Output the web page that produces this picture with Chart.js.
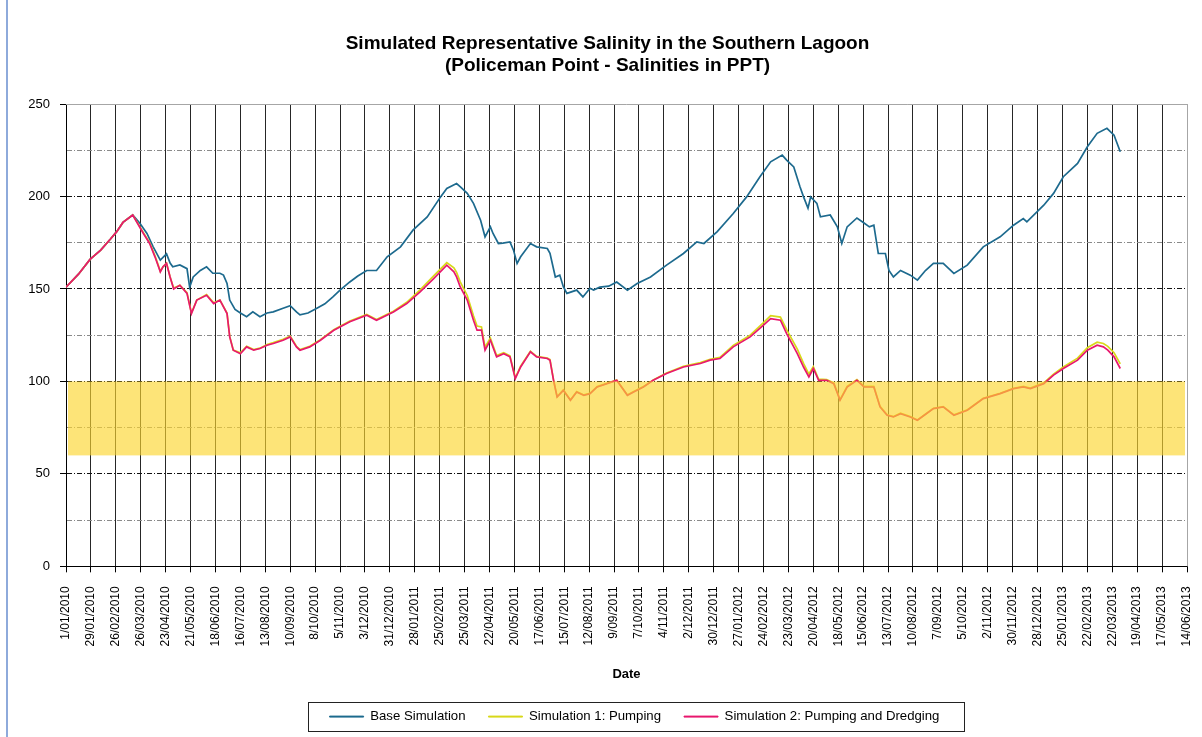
<!DOCTYPE html>
<html>
<head>
<meta charset="utf-8">
<title>Simulated Representative Salinity in the Southern Lagoon</title>
<script src="https://cdn.jsdelivr.net/npm/chart.js@4.4.0/dist/chart.umd.min.js"></script>
<style>
    body { margin: 0; background: #fff; }
    #wrap { position: relative; width: 1202px; height: 737px; }
    #salinityChart { position: absolute; left: 0; top: 0; }
    #frame { position: absolute; left: 6px; top: 0; width: 2px; height: 737px; background: #8eaadb; }
</style>
</head>
<body>
<div id="wrap">
    <canvas id="salinityChart" width="1202" height="737"></canvas>
    <div id="frame"></div>
</div>
<script>
// Days counted from 1/01/2010
const axisStartYear = 2010;
const axisMaxDay = 1260;
const tickStepDays = 28;

// Target salinity band (PPT)
const bandLow = 60;
const bandHigh = 100;

const seriesLabels = ['Base Simulation', 'Simulation 1: Pumping', 'Simulation 2: Pumping and Dredging'];

// Base simulation
const baseDays = [
    0, 14, 27, 39, 50, 57, 64, 75, 83, 91,
    98, 106, 113, 117, 120, 128, 136, 139, 143, 151,
    158, 165, 173, 177, 181, 184, 190, 196, 203, 210,
    218, 226, 233, 244, 252, 259, 263, 272, 282, 291,
    300, 308, 319, 328, 338, 349, 361, 376, 390, 406,
    421, 428, 439, 443, 451, 458, 466, 471, 477, 480,
    486, 491, 499, 503, 507, 511, 522, 529, 541, 544,
    550, 555, 559, 563, 574, 581, 589, 593, 600, 610,
    619, 631, 642, 657, 675, 694, 709, 717, 732, 750,
    765, 780, 792, 805, 810, 818, 825, 829, 834, 837,
    844, 848, 859, 867, 872, 878, 889, 897, 903, 908,
    913, 921, 925, 930, 938, 949, 957, 966, 975, 986,
    998, 1013, 1031, 1050, 1065, 1076, 1080, 1099, 1110, 1121,
    1137, 1148, 1159, 1170, 1178, 1185
];
const baseSalinity = [
    151, 158, 166, 171, 177, 181, 186, 190, 185.6, 180,
    172.8, 165.6, 169, 164, 162, 163, 161, 151, 156.5, 160,
    162, 158.5, 158.5, 157.5, 153, 144, 139, 137, 135, 137.6,
    135, 137, 137.6, 139.6, 141, 137.6, 136, 137, 139.6, 142,
    145.7, 149.4, 153.8, 157, 160, 160, 167.4, 172.8, 181.8, 189,
    199.8, 204.4, 207, 205.3, 201.7, 196.3, 187.2, 178.2, 183.6, 180,
    174.6, 174.8, 175.5, 171, 163.8, 167.4, 174.6, 172.8, 171.9, 169.3,
    156.5, 157.5, 151.2, 147.6, 149.4, 145.7, 150.4, 149.4, 151, 151.5,
    153.8, 149.4, 153, 156.5, 162.9, 169.2, 175.5, 174.6, 181, 190.8,
    199.8, 210.7, 218.8, 222.4, 219.7, 216, 205.3, 199.8, 193.7, 199.8,
    196.3, 189, 190, 183.6, 174.6, 183.6, 188.4, 185.7, 183.6, 184.5,
    169.2, 169.2, 160, 156.5, 160, 157.5, 154.8, 160, 163.8, 163.8,
    158.4, 162.9, 172.8, 178.2, 184.5, 188.1, 186.3, 195.3, 201.7, 210.7,
    217.9, 226.9, 234.2, 236.9, 233.2, 224.2
];

// Simulations 1 and 2 share the same days
const simDays = [
    0, 14, 27, 39, 50, 57, 64, 75, 87, 94,
    100, 104, 106, 109, 113, 117, 121, 128, 136, 141,
    147, 158, 166, 173, 181, 184, 188, 196, 203, 211,
    218, 226, 233, 244, 252, 259, 263, 274, 286, 301,
    319, 338, 349, 368, 383, 398, 413, 428, 436, 439,
    443, 451, 458, 462, 467, 471, 477, 484, 492, 499,
    505, 511, 522, 529, 541, 544, 548, 552, 559, 567,
    574, 582, 589, 597, 619, 631, 638, 649, 660, 675,
    694, 713, 724, 735, 750, 769, 784, 792, 803, 810,
    822, 829, 835, 840, 846, 855, 863, 870, 878, 889,
    897, 908, 915, 923, 930, 938, 949, 957, 975, 986,
    998, 1013, 1031, 1050, 1065, 1076, 1084, 1099, 1110, 1121,
    1137, 1148, 1159, 1166, 1171, 1178, 1185
];
const pumpingSalinity = [
    151, 158, 166, 171, 177, 181, 186, 190, 180.5, 175,
    168, 162.5, 159.5, 162, 164, 156.5, 150.5, 152, 148, 137,
    144, 147, 142.5, 144, 137, 124.5, 117, 115.5, 119, 117.2,
    118, 120, 121, 122.8, 124.5, 119, 117.2, 119, 122.6, 128,
    132.7, 136.2, 133.5, 138, 142.8, 149.5, 157, 164.3, 161.5, 159,
    154, 146.5, 135.5, 130, 129.5, 118.5, 123.5, 114, 115.5, 113.8,
    102, 108.2, 116.3, 113.6, 112.7, 111.8, 100.8, 91.8, 95.4, 90,
    94.5, 92.7, 93.6, 97.2, 100.8, 92.7, 94.5, 97.2, 100.8, 104.6,
    108.2, 110.2, 112, 113, 119.5, 125, 131.8, 135.6, 134.8, 128,
    117.5, 109.8, 104, 108, 101.2, 101, 99.2, 90.2, 97.4, 101,
    97.3, 97.3, 86.5, 82, 81, 82.8, 81, 79.2, 85.5, 86.4,
    81.9, 84.6, 90.9, 93.6, 96.3, 97.3, 96.4, 99.2, 104, 107.8,
    112.6, 118.2, 121.2, 120.5, 119, 115.5, 109.5
];
const dredgingSalinity = [
    151, 158, 166, 171, 177, 181, 186, 190, 180, 174.6,
    167.4, 162, 159.3, 162, 163.8, 156.5, 150, 152, 147.6, 136.7,
    144, 146.6, 142.1, 144, 136.7, 124.1, 116.9, 115, 118.7, 116.9,
    117.8, 119.6, 120.5, 122.3, 124.1, 118.7, 116.9, 118.7, 122.3, 127.7,
    132.3, 135.8, 133.1, 137.6, 142.1, 148.4, 155.5, 162.9, 159.3, 156.5,
    151.2, 144, 133.1, 127.7, 127.7, 116.9, 122.3, 113.3, 115, 113.3,
    101.5, 107.8, 116, 113.3, 112.4, 111.5, 100.6, 91.6, 95.2, 89.8,
    94.3, 92.5, 93.4, 97, 100.6, 92.5, 94.3, 97, 100.6, 104.3,
    107.8, 109.7, 111.5, 112.4, 118.7, 124.1, 130.4, 134, 133.1, 125.9,
    115, 107.8, 102.4, 107, 100.6, 100.6, 98.8, 89.8, 97, 100.6,
    97, 97, 86.2, 81.7, 80.8, 82.6, 80.8, 79, 85.3, 86.2,
    81.7, 84.4, 90.7, 93.4, 96.1, 97, 96.1, 98.8, 103.4, 107,
    111.5, 116.9, 119.6, 118.7, 116.9, 113.3, 107
];

function toPoints(days, values) {
    return days.map((d, i) => ({ x: d, y: values[i] }));
}

// Format a day offset as d/mm/yyyy like the original axis
function formatDay(v) {
    const date = new Date(Date.UTC(axisStartYear, 0, 1 + v));
    return date.getUTCDate() + '/' + String(date.getUTCMonth() + 1).padStart(2, '0') + '/' + date.getUTCFullYear();
}

// Grey frame on top and right of the plot area
const plotFrame = {
    id: 'plotFrame',
    beforeDatasetsDraw(chart) {
        const { ctx, chartArea: a } = chart;
        ctx.save();
        ctx.strokeStyle = '#a6a6a6';
        ctx.lineWidth = 1;
        ctx.beginPath();
        ctx.moveTo(a.left, Math.round(a.top) + 0.5);
        ctx.lineTo(Math.round(a.right) + 0.5, Math.round(a.top) + 0.5);
        ctx.lineTo(Math.round(a.right) + 0.5, a.bottom);
        ctx.stroke();
        ctx.restore();
    }
};

// Semi transparent band over the lines, 60 to 100 PPT
const targetBand = {
    id: 'targetBand',
    afterDatasetsDraw(chart) {
        const { ctx, scales: { x, y } } = chart;
        const left = x.getPixelForValue(0) + 2;
        const right = x.getPixelForValue(axisMaxDay) - 2;
        const top = y.getPixelForValue(bandHigh);
        const bottom = y.getPixelForValue(bandLow);
        ctx.save();
        ctx.fillStyle = 'rgba(252, 214, 48, 0.65)';
        ctx.fillRect(left, top, right - left, bottom - top);
        ctx.restore();
    }
};

// Nudge title and legend like the original and draw a box round the legend
const legendBox = {
    id: 'legendBox',
    afterLayout(chart) {
        const t = chart.titleBlock;
        t.left += 14;
        t.right += 14;
        const lg = chart.legend;
        const h = lg.bottom - lg.top;
        lg.left += 41;
        lg.right += 41;
        lg.top = 687;
        lg.bottom = 687 + h;
    },
    afterDraw(chart) {
        const boxes = chart.legend.legendHitBoxes;
        if (!boxes || !boxes.length) return;
        const left = Math.min(...boxes.map(b => b.left)) - 22;
        const right = Math.max(...boxes.map(b => b.left + b.width)) + 24;
        const mid = boxes[0].top + boxes[0].height / 2;
        const ctx = chart.ctx;
        ctx.save();
        ctx.strokeStyle = '#222';
        ctx.lineWidth = 1;
        ctx.strokeRect(Math.round(left) + 0.5, Math.round(mid - 15) + 0.5, Math.round(right - left), 29);
        ctx.restore();
    }
};

const seriesColors = ['#1d6a8e', '#d8d81a', '#e8186e'];

const ctx = document.getElementById('salinityChart').getContext('2d');
Chart.defaults.font.family = "'Liberation Sans', Arial, sans-serif";
Chart.defaults.color = '#000';

new Chart(ctx, {
    type: 'line',
    data: {
        datasets: [
            {
                label: seriesLabels[0],
                data: toPoints(baseDays, baseSalinity),
                borderColor: seriesColors[0],
                backgroundColor: seriesColors[0],
                borderWidth: 1.7,
                pointRadius: 0,
                order: 3
            },
            {
                label: seriesLabels[1],
                data: toPoints(simDays, pumpingSalinity),
                borderColor: seriesColors[1],
                backgroundColor: seriesColors[1],
                borderWidth: 1.7,
                pointRadius: 0,
                order: 2
            },
            {
                label: seriesLabels[2],
                data: toPoints(simDays, dredgingSalinity),
                borderColor: seriesColors[2],
                backgroundColor: seriesColors[2],
                borderWidth: 1.7,
                pointRadius: 0,
                order: 1
            }
        ]
    },
    options: {
        responsive: false,
        animation: false,
        layout: {
            padding: { left: 0, right: 15, top: 0, bottom: 0 }
        },
        scales: {
            x: {
                type: 'linear',
                min: 0,
                max: axisMaxDay,
                afterFit(scale) {
                    scale.paddingLeft = 0;
                    scale.paddingRight = 0;
                },
                ticks: {
                    stepSize: tickStepDays,
                    autoSkip: false,
                    minRotation: 90,
                    maxRotation: 90,
                    padding: 14,
                    font: { size: 12 },
                    callback: v => formatDay(v)
                },
                grid: {
                    color: c => (c.tick && c.tick.value === axisMaxDay ? '#a6a6a6' : '#262626'),
                    lineWidth: 1,
                    tickLength: 6,
                    tickColor: '#000'
                },
                border: { color: '#000', width: 1 },
                title: {
                    display: true,
                    text: 'Date',
                    font: { size: 13, weight: 'bold' },
                    padding: { top: 6, bottom: 15 }
                }
            },
            y: {
                min: 0,
                max: 250,
                afterFit(scale) { scale.width = 66; },
                ticks: {
                    stepSize: 25,
                    padding: 10,
                    font: { size: 13 },
                    callback: v => (v % 50 === 0 ? v : '')
                },
                grid: {
                    color: c => {
                        if (!c.tick) return '#000';
                        if (c.tick.value === 250) return 'transparent';
                        return c.tick.value % 50 === 0 ? '#111' : '#8a8a8a';
                    },
                    lineWidth: 1,
                    tickLength: 6,
                    tickColor: c => (c.tick && c.tick.value % 50 === 0 ? '#000' : 'transparent'),
                    tickBorderDash: []
                },
                border: { color: '#000', width: 1, dash: [5, 2, 1, 2] }
            }
        },
        plugins: {
            title: {
                display: true,
                text: ['Simulated Representative Salinity in the Southern Lagoon', '(Policeman Point - Salinities in PPT)'],
                font: { size: 19, weight: 'bold', lineHeight: 1.16 },
                padding: { top: 33, bottom: 27 }
            },
            legend: {
                position: 'bottom',
                maxHeight: 40,
                labels: {
                    boxWidth: 34,
                    boxHeight: 1,
                    padding: 23,
                    font: { size: 13.2 },
                    generateLabels: chart => chart.data.datasets.map((ds, i) => ({
                        text: ds.label,
                        fillStyle: ds.borderColor,
                        strokeStyle: ds.borderColor,
                        lineWidth: 1,
                        hidden: false,
                        datasetIndex: i
                    }))
                }
            },
            tooltip: { enabled: false }
        }
    },
    plugins: [plotFrame, targetBand, legendBox]
});
</script>
</body>
</html>
